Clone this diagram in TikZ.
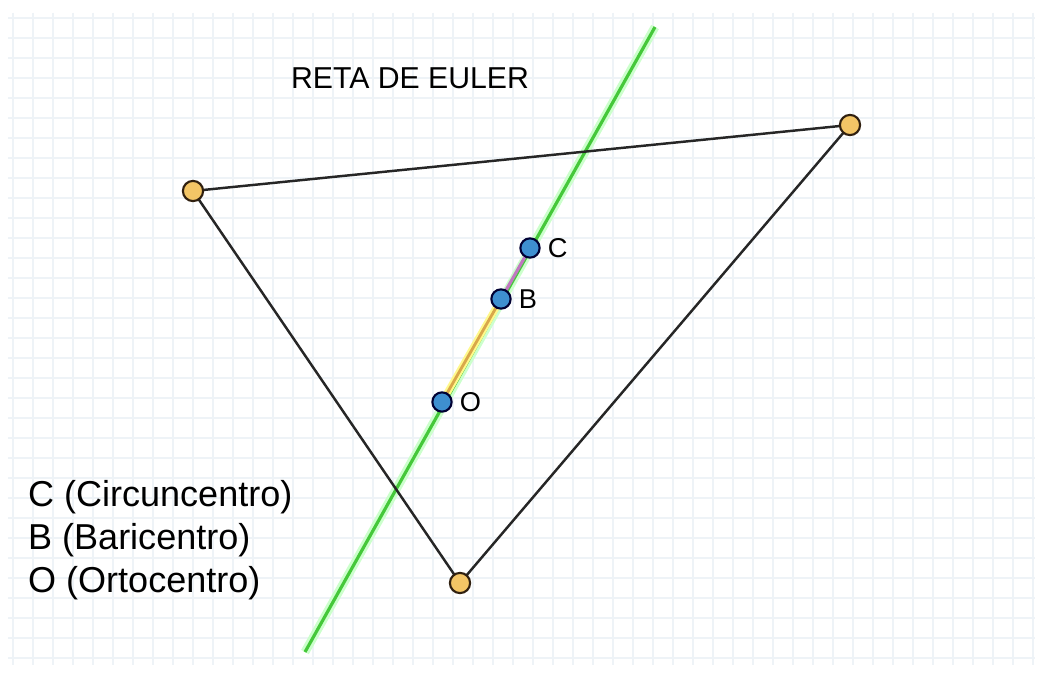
\documentclass[tikz,border=0pt]{standalone}
\usepackage{fontspec}
\setmainfont{Liberation Sans}
\usetikzlibrary{positioning}
\definecolor{mGrid}{HTML}{EEF3F7}
\definecolor{mGreen}{HTML}{45C83A}
\definecolor{mPink}{HTML}{C078C0}
\definecolor{mOrange}{HTML}{D9A84A}
\definecolor{mBlue}{HTML}{3E8FD0}
\definecolor{mGold}{HTML}{F0B640}

\begin{document}
\begin{tikzpicture}[x=0.02cm, y=-0.02cm,
    vert/.style={circle, draw=black!75!brown, line width=1.2pt, fill=mGold!80, inner sep=0pt, minimum size=11.5pt},
    cpoint/.style={circle, draw=black!80!blue, line width=1.2pt, fill=mBlue, inner sep=0pt, minimum size=11pt},
    side/.style={line width=1.4pt, black!85},
    gridline/.style={mGrid, line width=0.6pt}]
    \useasboundingbox (0,0) rectangle (1043,675);
    \fill[white] (0,0) rectangle (1043,675);
    \foreach \gx in {13,33,...,1033} {
      \draw[gridline] (\gx,13) -- (\gx,665);
    }
    \foreach \gy in {18,38,...,658} {
      \draw[gridline] (8,\gy) -- (1035,\gy);
    }

    % vertices, centres, ends of the Euler line
    \coordinate (vA) at (193,191);
    \coordinate (vB) at (850,125);
    \coordinate (vC) at (460,583);
    \coordinate (circ) at (530,248);
    \coordinate (bari) at (501,299);
    \coordinate (orto) at (442,402);
    \coordinate (eTop) at (655,27);
    \coordinate (eBot) at (305,652);

    \draw[green!20, line width=5pt] (eBot) -- (eTop);
    \draw[mGreen, line width=1.8pt] (eBot) -- (eTop);
    \draw[yellow!45, line width=4pt] (orto) -- (bari);
    \draw[mOrange, line width=1.6pt] (orto) -- (bari);
    \draw[mPink, line width=1.8pt] (bari) -- (circ);

    \draw[side] (vA) -- (vB) -- (vC) -- cycle;

    \foreach \v in {vA, vB, vC} {
      \node[vert] at (\v) {};
    }
    \foreach \p/\t in {circ/C, bari/B, orto/O} {
      \node[cpoint] (\p dot) at (\p) {};
      \node[right=0.5pt of \p dot, font=\fontsize{15.5}{18}\selectfont] {\t};
    }

    \node[font=\fontsize{17.2}{20}\selectfont] (title) at (410,78) {RETA DE EULER};
    \node[anchor=west, align=left, font=\fontsize{20.5}{24.4}\selectfont] (legend) at (22,540)
      {C (Circuncentro)\\B (Baricentro)\\O (Ortocentro)};
\end{tikzpicture}
\end{document}
